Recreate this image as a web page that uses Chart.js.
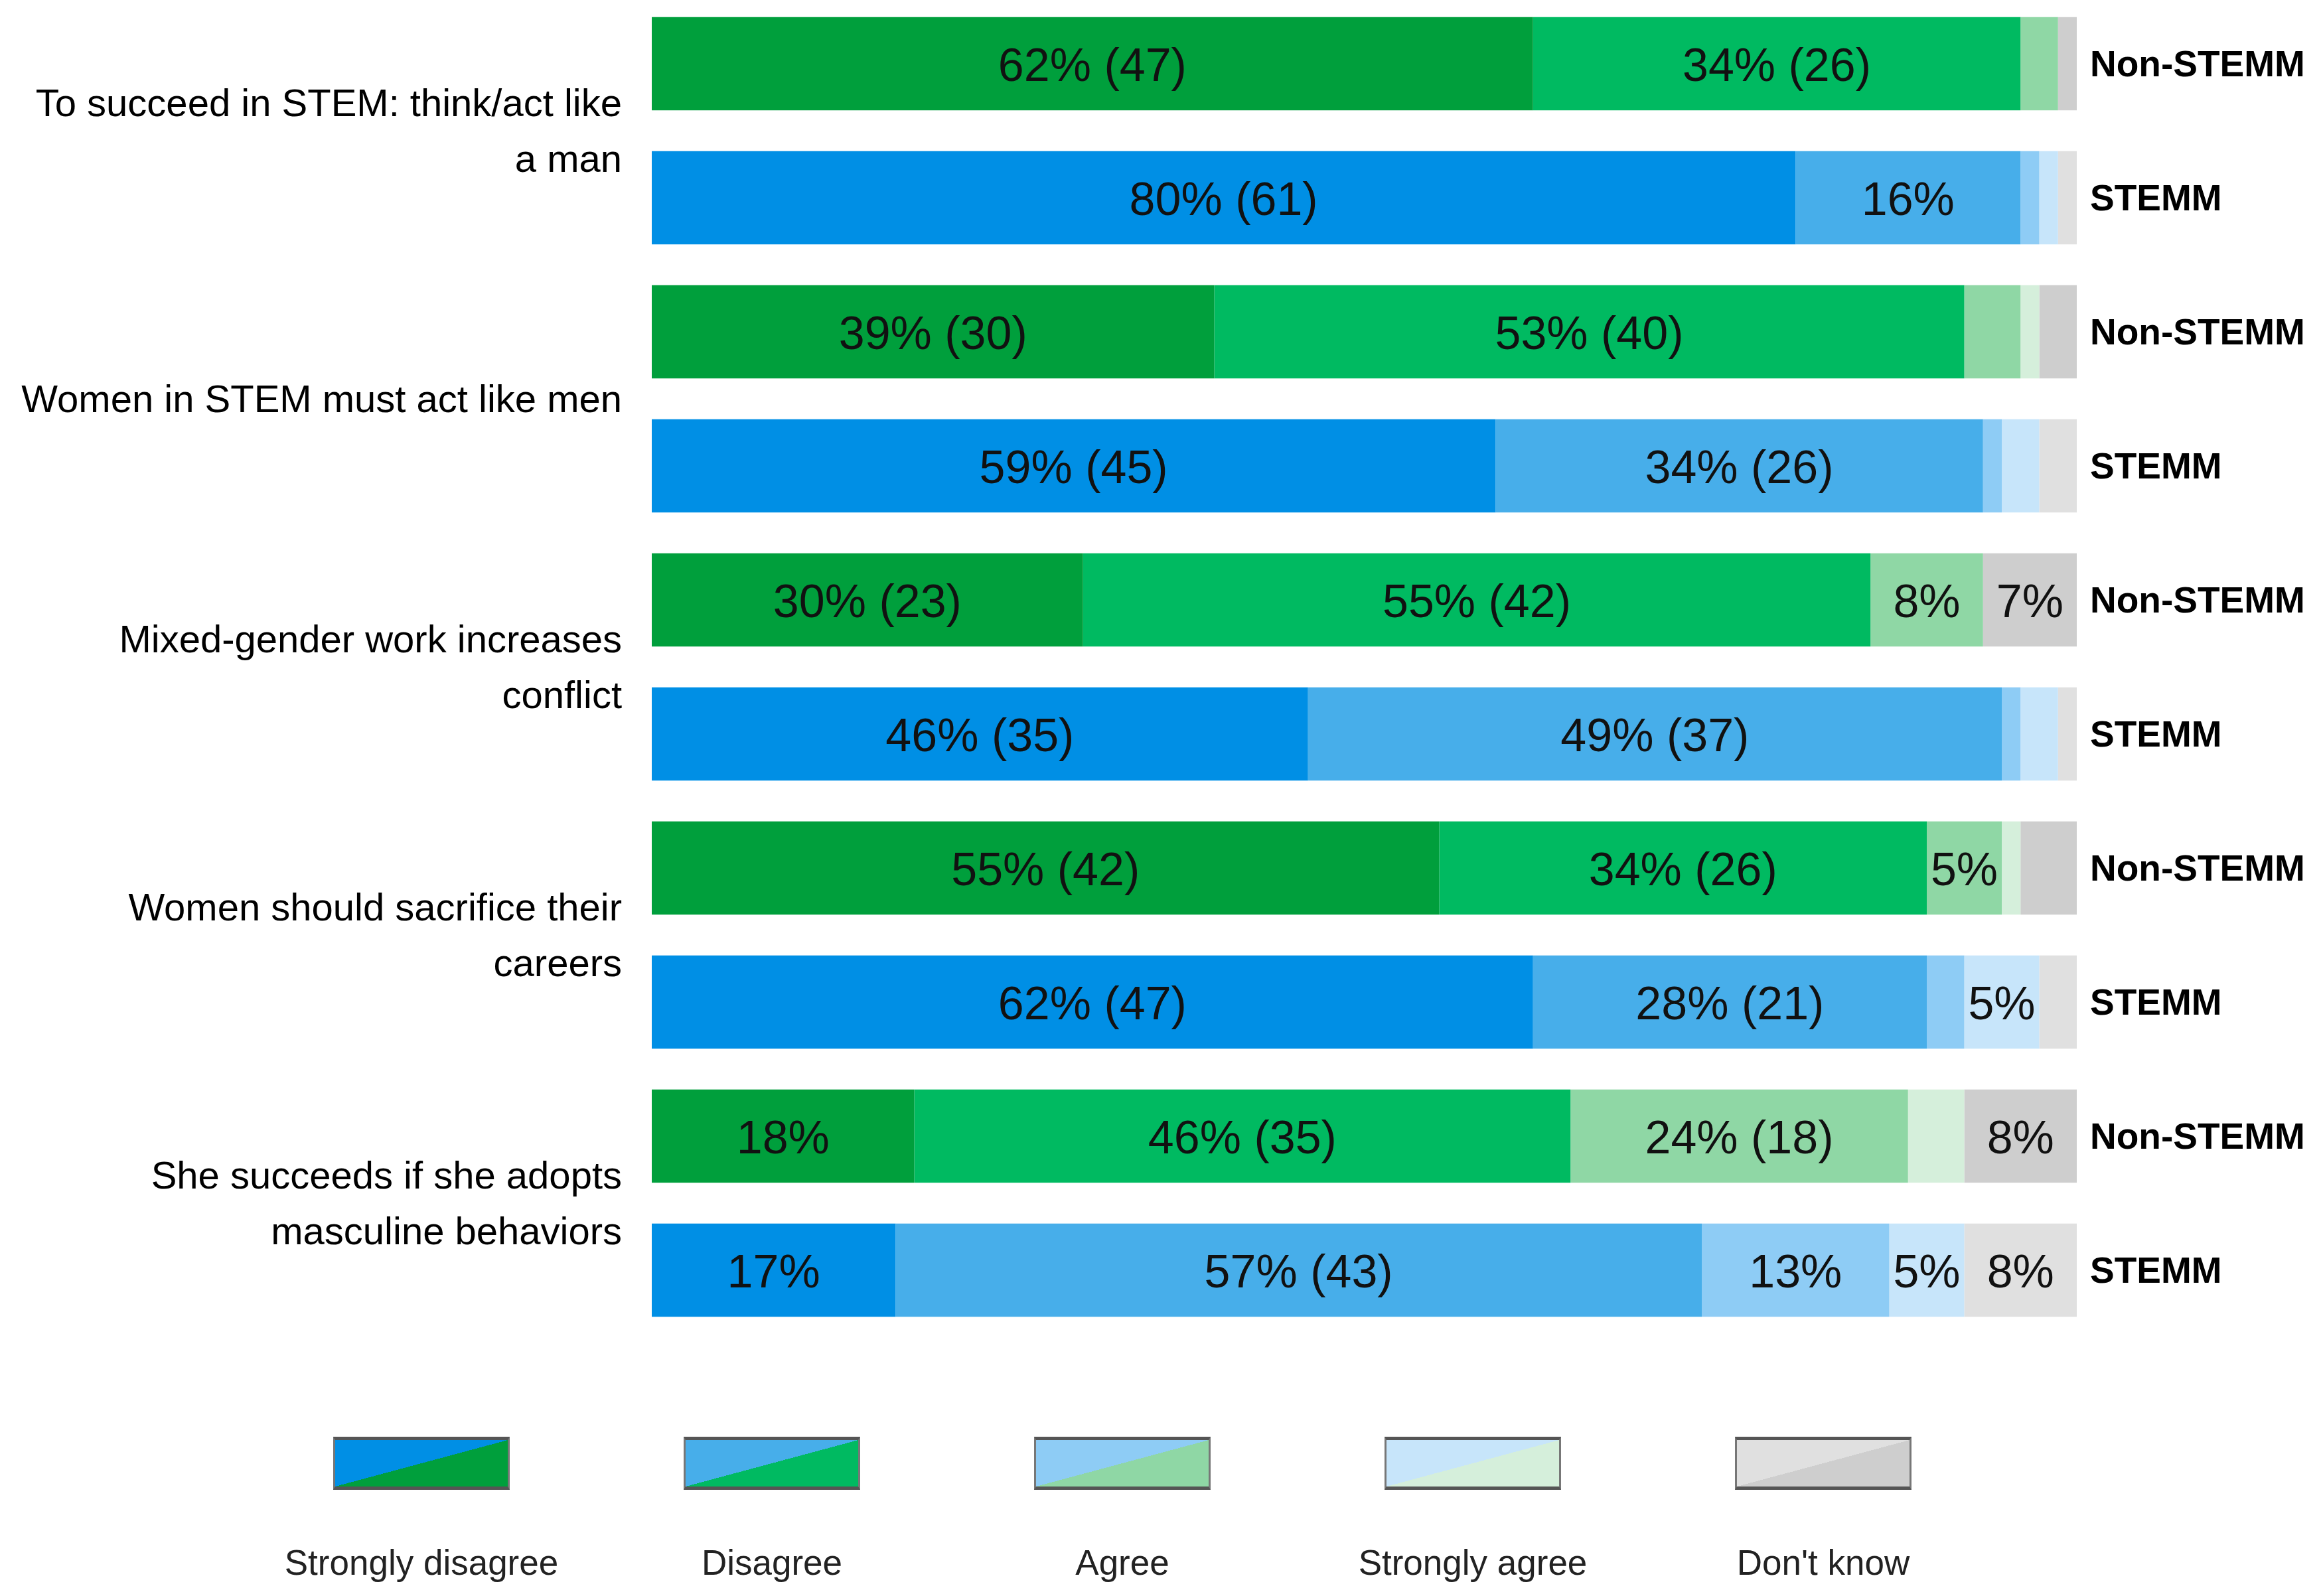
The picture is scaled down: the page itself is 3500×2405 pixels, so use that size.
<!DOCTYPE html>
<html>
<head>
<meta charset="utf-8">
<script src="https://cdn.jsdelivr.net/npm/chart.js@4.4.1/dist/chart.umd.min.js"></script>
<style>
  html, body { margin: 0; padding: 0; background: #fff; }
  #page { position: relative; width: 3500px; height: 2405px; overflow: hidden; font-family: "Liberation Sans", Arial, sans-serif; }
  #wrap { position: absolute; left: 0; top: -5px; width: 3500px; height: 2020px; }
  .lg-box { position: absolute; top: 2165px; width: 266px; height: 80px; box-sizing: border-box;
            border-top: 5px solid #555; border-bottom: 5px solid #555; border-left: 3px solid #777; border-right: 3px solid #777; }
  .lg-text { position: absolute; top: 2325px; width: 500px; height: 60px; line-height: 60px; text-align: center; font-size: 53px; color: #222; }
</style>
</head>
<body>
<div id="page">
  <div id="wrap"><canvas id="chart"></canvas></div>
  <div id="legend"></div>
</div>
<script>
// ── Data (counts out of N respondents per group) ───────────────
const N = 76;
const statements = [
  ['To succeed in STEM: think/act like', 'a man'],
  'Women in STEM must act like men',
  ['Mixed-gender work increases', 'conflict'],
  ['Women should sacrifice their', 'careers'],
  ['She succeeds if she adopts', 'masculine behaviors'],
];
const rowLabels = ['Non-STEMM', 'STEMM', 'Non-STEMM', 'STEMM', 'Non-STEMM', 'STEMM', 'Non-STEMM', 'STEMM', 'Non-STEMM', 'STEMM'];
const responses = ['Strongly disagree', 'Disagree', 'Agree', 'Strongly agree', "Don't know"];

const stronglyDisagree = [47, 61, 30, 45, 23, 35, 42, 47, 14, 13];
const disagree         = [26, 12, 40, 26, 42, 37, 26, 21, 35, 43];
const agree            = [ 2,  1,  3,  1,  6,  1,  4,  2, 18, 10];
const stronglyAgree    = [ 0,  1,  1,  2,  0,  2,  1,  4,  3,  4];
const dontKnow         = [ 1,  1,  2,  2,  5,  1,  3,  2,  6,  6];

// ── Styles ─────────────────────────────────────────────────────
const GREENS = ['#009F3C', '#00BA61', '#8FD7A5', '#D5EFDB', '#CECECE'];
const BLUES  = ['#008FE5', '#47AEEA', '#8ECCF5', '#C7E5FA', '#E0E0E0'];
const FONT = '"Liberation Sans", Arial, sans-serif';
const MIN_PCT_LABEL = 4;     // smaller segments get no label
const MIN_COUNT_LABEL = 15;  // segments this big also show the count

const series = [stronglyDisagree, disagree, agree, stronglyAgree, dontKnow];

const datasets = series.map((values, k) => ({
  label: responses[k],
  data: values,
  backgroundColor: rowLabels.map(r => r === 'STEMM' ? BLUES[k] : GREENS[k]),
  borderWidth: 0,
  barPercentage: 0.695,
  categoryPercentage: 1,
}));

const segmentLabels = {
  id: 'segmentLabels',
  afterDatasetsDraw(chart) {
    const { ctx } = chart;
    ctx.save();
    ctx.font = `70px ${FONT}`;
    ctx.fillStyle = '#111';
    ctx.textAlign = 'center';
    ctx.textBaseline = 'middle';
    chart.data.datasets.forEach((ds, i) => {
      chart.getDatasetMeta(i).data.forEach((bar, j) => {
        const v = ds.data[j];
        if (v < MIN_PCT_LABEL) return;
        const pct = Math.round(v / N * 100);
        const text = pct + '%' + (v >= MIN_COUNT_LABEL ? ` (${v})` : '');
        const p = bar.getCenterPoint();
        ctx.fillText(text, p.x, p.y + 7);
      });
    });
    ctx.restore();
  },
};

// axis labels may overflow the plot area; don't let them shrink it
const noVPadding = s => { s.paddingTop = 0; s.paddingBottom = 0; };

new Chart(document.getElementById('chart'), {
  type: 'bar',
  data: { labels: rowLabels, datasets },
  options: {
    indexAxis: 'y',
    responsive: true,
    maintainAspectRatio: false,
    devicePixelRatio: 1,
    animation: false,
    layout: { padding: 0 },
    plugins: { legend: { display: false }, tooltip: { enabled: false } },
    scales: {
      x: { type: 'linear', stacked: true, min: 0, max: N, display: false },
      y: {
        type: 'category',
        stacked: true,
        position: 'right',
        offset: true,
        grid: { display: false, drawTicks: false },
        border: { display: false },
        ticks: { color: '#000', padding: 20, labelOffset: 4, font: { family: FONT, size: 55, weight: 'bold' } },
        afterFit: s => { s.width = 371; noVPadding(s); },
      },
      g: {
        type: 'category',
        labels: statements,
        position: 'left',
        offset: true,
        grid: { display: false, drawTicks: false },
        border: { display: false },
        ticks: { color: '#000', padding: 45, labelOffset: 4, font: { family: FONT, size: 58, lineHeight: 1.46 } },
        afterFit: s => { s.width = 982; noVPadding(s); },
      },
    },
  },
  plugins: [segmentLabels],
});

// ── HTML legend ────────────────────────────────────────────────
const legend = document.getElementById('legend');
responses.forEach((name, k) => {
  const cx = 635 + 528 * k;
  const box = document.createElement('div');
  box.className = 'lg-box';
  box.style.left = (cx - 133) + 'px';
  box.style.background = `linear-gradient(to bottom right, ${BLUES[k]} 50%, ${GREENS[k]} 50%)`;
  legend.appendChild(box);
  const txt = document.createElement('div');
  txt.className = 'lg-text';
  txt.style.left = (cx - 250) + 'px';
  txt.textContent = name;
  legend.appendChild(txt);
});
</script>
</body>
</html>
